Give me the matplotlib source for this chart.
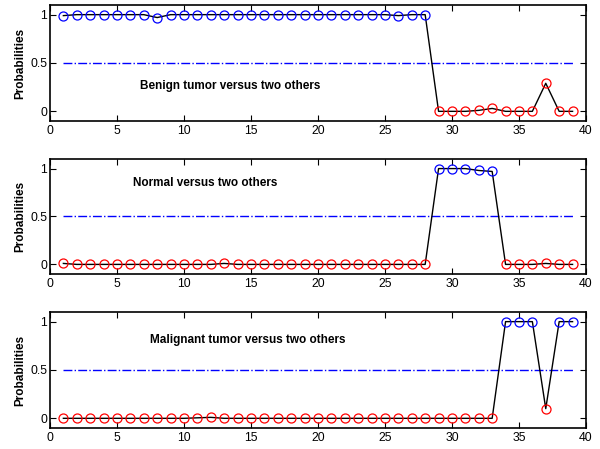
import numpy as np
import matplotlib
matplotlib.use("Agg")
import matplotlib.pyplot as plt

plt.rcParams["font.family"] = ["Liberation Sans", "DejaVu Sans"]

samples = np.arange(1, 40)

benign = [0.99, 1, 1, 1, 1, 1, 1, 0.97, 1, 1, 1, 1, 1, 1, 1, 1, 1, 1, 1, 1,
          1, 1, 1, 1, 1, 0.99, 1, 1,
          0, 0, 0, 0.01, 0.03, 0, 0, 0, 0.29, 0, 0]
normal = [0.01, 0, 0, 0, 0, 0, 0, 0, 0, 0, 0, 0, 0.01, 0, 0, 0, 0, 0, 0, 0,
          0, 0, 0, 0, 0, 0, 0, 0,
          1, 1, 1, 0.98, 0.97, 0, 0, 0, 0.01, 0, 0]
malignant = [0, 0, 0, 0, 0, 0, 0, 0, 0, 0, 0.005, 0.01, 0, 0, 0, 0, 0, 0, 0, 0,
             0, 0, 0, 0, 0, 0, 0, 0, 0, 0, 0, 0, 0,
             1, 1, 1, 0.1, 1, 1]

titles = ["Benign tumor versus two others",
          "Normal versus two others",
          "Malignant tumor versus two others"]
title_pos = [(6.7, 0.23), (6.2, 0.82), (7.5, 0.78)]

threshold = 0.5

fig = plt.figure(figsize=(6, 4.49), dpi=100)
boxes = [
    [0.0833, 0.7305, 0.8933, 0.2584],
    [0.0833, 0.3898, 0.8933, 0.2561],
    [0.0833, 0.0468, 0.8933, 0.2584],
]

for box, vals, title, pos in zip(boxes, [benign, normal, malignant], titles, title_pos):
    ax = fig.add_axes(box)
    vals = np.array(vals)
    ax.plot(samples, vals, color="black", lw=1.0, zorder=2)
    hi = vals > threshold
    ax.plot(samples[hi], vals[hi], "o", mfc="none", mec="blue", ms=6.5, mew=0.9, zorder=3)
    ax.plot(samples[~hi], vals[~hi], "o", mfc="none", mec="red", ms=6.5, mew=0.9, zorder=3)
    ax.plot([samples[0], samples[-1]], [threshold, threshold], color="blue",
            ls="-.", lw=1.0, zorder=1)
    ax.set_xlim(0, 40)
    ax.set_ylim(-0.1, 1.1)
    ax.set_yticks([0, 0.5, 1])
    ax.set_yticklabels(["0", "0.5", "1"])
    ax.set_xticks(np.arange(0, 41, 5))
    ax.tick_params(direction="in", top=True, right=True, labelsize=8.8, length=4, pad=3)
    ax.tick_params(axis="y", pad=2)
    ax.set_ylabel("Probabilities", fontsize=8.5, fontweight="bold", labelpad=3)
    ax.text(pos[0], pos[1], title, fontsize=8.5, fontweight="bold")
    for s in ax.spines.values():
        s.set_linewidth(1.2)

fig.savefig("out.png", dpi=100)
